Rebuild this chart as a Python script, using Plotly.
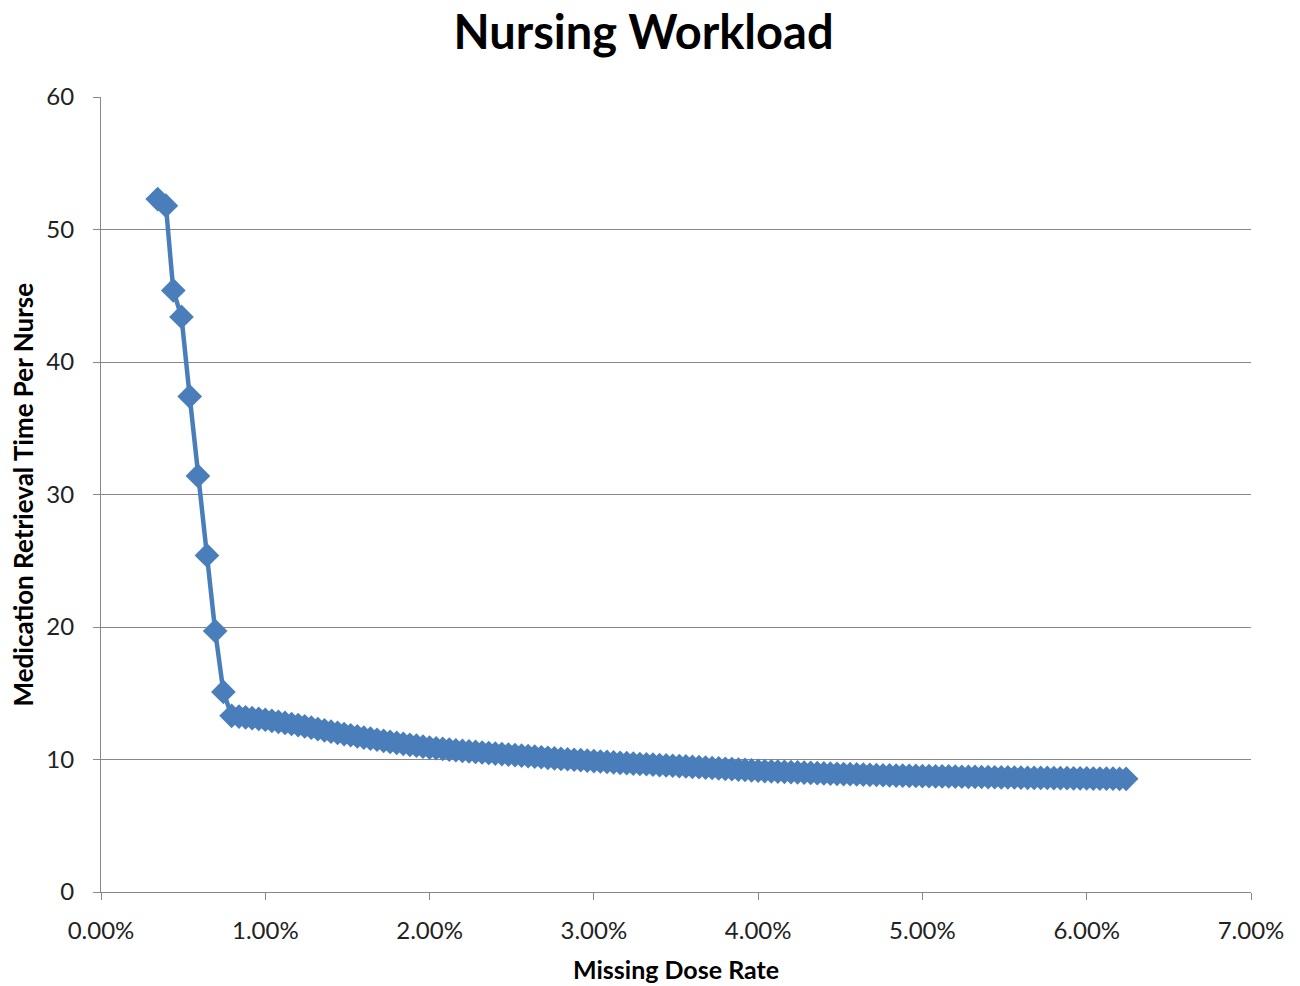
import plotly.graph_objects as go

# Missing dose rate (%) and medication retrieval time per nurse
missing_dose_rate = [
    0.345, 0.395, 0.44, 0.49, 0.54, 0.59, 0.645, 0.695, 0.745, 0.795,
    0.84, 0.88, 0.92, 0.96, 1.00, 1.04, 1.08, 1.12, 1.16, 1.20,
    1.24, 1.28, 1.32, 1.36, 1.40, 1.44, 1.48, 1.52, 1.56, 1.60,
    1.64, 1.68, 1.72, 1.76, 1.80, 1.84, 1.88, 1.92, 1.96, 2.00,
    2.04, 2.08, 2.12, 2.16, 2.20, 2.24, 2.28, 2.32, 2.36, 2.40,
    2.44, 2.48, 2.52, 2.56, 2.60, 2.64, 2.68, 2.72, 2.76, 2.80,
    2.84, 2.88, 2.92, 2.96, 3.00, 3.04, 3.08, 3.12, 3.16, 3.20,
    3.24, 3.28, 3.32, 3.36, 3.40, 3.44, 3.48, 3.52, 3.56, 3.60,
    3.64, 3.68, 3.72, 3.76, 3.80, 3.84, 3.88, 3.92, 3.96, 4.00,
    4.04, 4.08, 4.12, 4.16, 4.20, 4.24, 4.28, 4.32, 4.36, 4.40,
    4.44, 4.48, 4.52, 4.56, 4.60, 4.64, 4.68, 4.72, 4.76, 4.80,
    4.84, 4.88, 4.92, 4.96, 5.00, 5.04, 5.08, 5.12, 5.16, 5.20,
    5.24, 5.28, 5.32, 5.36, 5.40, 5.44, 5.48, 5.52, 5.56, 5.60,
    5.64, 5.68, 5.72, 5.76, 5.80, 5.84, 5.88, 5.92, 5.96, 6.00,
    6.04, 6.08, 6.12, 6.16, 6.20, 6.24,
]

retrieval_time = [
    52.3, 51.8, 45.4, 43.4, 37.4, 31.4, 25.4, 19.7, 15.1, 13.3,
    13.24, 13.18, 13.12, 13.06, 13.00, 12.92, 12.84, 12.76, 12.68, 12.60,
    12.50, 12.40, 12.30, 12.20, 12.10, 12.01, 11.92, 11.83, 11.74, 11.65,
    11.57, 11.49, 11.41, 11.33, 11.25, 11.18, 11.11, 11.04, 10.97, 10.90,
    10.85, 10.80, 10.75, 10.70, 10.65, 10.61, 10.57, 10.53, 10.49, 10.45,
    10.41, 10.37, 10.33, 10.29, 10.25, 10.21, 10.17, 10.13, 10.09, 10.05,
    10.02, 9.98, 9.95, 9.91, 9.88, 9.85, 9.82, 9.78, 9.75, 9.72,
    9.69, 9.66, 9.64, 9.61, 9.58, 9.55, 9.53, 9.50, 9.48, 9.45,
    9.42, 9.39, 9.36, 9.33, 9.30, 9.27, 9.24, 9.21, 9.18, 9.15,
    9.13, 9.11, 9.09, 9.07, 9.05, 9.03, 9.01, 8.99, 8.97, 8.95,
    8.93, 8.92, 8.90, 8.89, 8.87, 8.86, 8.84, 8.83, 8.81, 8.80,
    8.79, 8.78, 8.77, 8.76, 8.75, 8.74, 8.73, 8.73, 8.72, 8.71,
    8.70, 8.69, 8.69, 8.68, 8.67, 8.66, 8.65, 8.65, 8.64, 8.63,
    8.62, 8.62, 8.61, 8.61, 8.60, 8.59, 8.59, 8.58, 8.58, 8.57,
    8.56, 8.56, 8.55, 8.55, 8.54, 8.54,
]

x_ticks = [0, 1, 2, 3, 4, 5, 6, 7]
x_tick_labels = ["0.00%", "1.00%", "2.00%", "3.00%", "4.00%", "5.00%", "6.00%", "7.00%"]
y_ticks = [0, 10, 20, 30, 40, 50, 60]

SERIES_BLUE = "#4A7EBB"
GRID_GRAY = "#878787"
FONT = "Lato"

fig = go.Figure()
fig.add_trace(go.Scatter(
    x=missing_dose_rate,
    y=retrieval_time,
    mode="lines+markers",
    line=dict(color=SERIES_BLUE, width=4.5),
    marker=dict(symbol="diamond", size=19, color=SERIES_BLUE, line=dict(width=0)),
    showlegend=False,
    hoverinfo="x+y",
))

fig.update_layout(
    width=1300,
    height=986,
    paper_bgcolor="white",
    plot_bgcolor="white",
    margin=dict(l=101, r=49, t=97, b=94),
    title=dict(
        text="<b>Nursing Workload</b>",
        font=dict(family=FONT, size=47, color="black"),
        x=0.495, xref="container", xanchor="center",
        y=1 - 33 / 986, yref="container", yanchor="middle",
    ),
    font=dict(family=FONT, color="#222222"),
)

fig.update_xaxes(
    range=[0, 7],
    automargin=False,
    tickmode="array",
    tickvals=x_ticks,
    ticktext=x_tick_labels,
    tickfont=dict(family=FONT, size=24, color="#222222"),
    ticklabelstandoff=10,
    showgrid=False,
    zeroline=False,
    showline=True,
    linecolor=GRID_GRAY,
    linewidth=1,
    ticks="outside",
    ticklen=7,
    tickcolor=GRID_GRAY,
)

fig.update_yaxes(
    range=[0, 60],
    automargin=False,
    tickmode="array",
    tickvals=y_ticks,
    tickfont=dict(family=FONT, size=24, color="#222222"),
    ticklabelstandoff=14,
    showgrid=True,
    gridcolor=GRID_GRAY,
    gridwidth=1,
    zeroline=False,
    showline=True,
    linecolor=GRID_GRAY,
    linewidth=1,
    ticks="outside",
    ticklen=7,
    tickcolor=GRID_GRAY,
)

# Axis titles placed relative to the plot area
fig.add_annotation(
    text="<b>Missing Dose Rate</b>",
    xref="paper", yref="paper", x=0.5, y=0,
    xanchor="center", yanchor="middle", yshift=-77,
    showarrow=False, borderpad=0,
    font=dict(family=FONT, size=25, color="black"),
)
fig.add_annotation(
    text="<b>Medication Retrieval Time Per Nurse</b>",
    xref="paper", yref="paper", x=0, y=0.5,
    xanchor="center", yanchor="middle", xshift=-79,
    textangle=-90,
    showarrow=False, borderpad=0,
    font=dict(family=FONT, size=26, color="black"),
)

fig.write_html("out.html")
